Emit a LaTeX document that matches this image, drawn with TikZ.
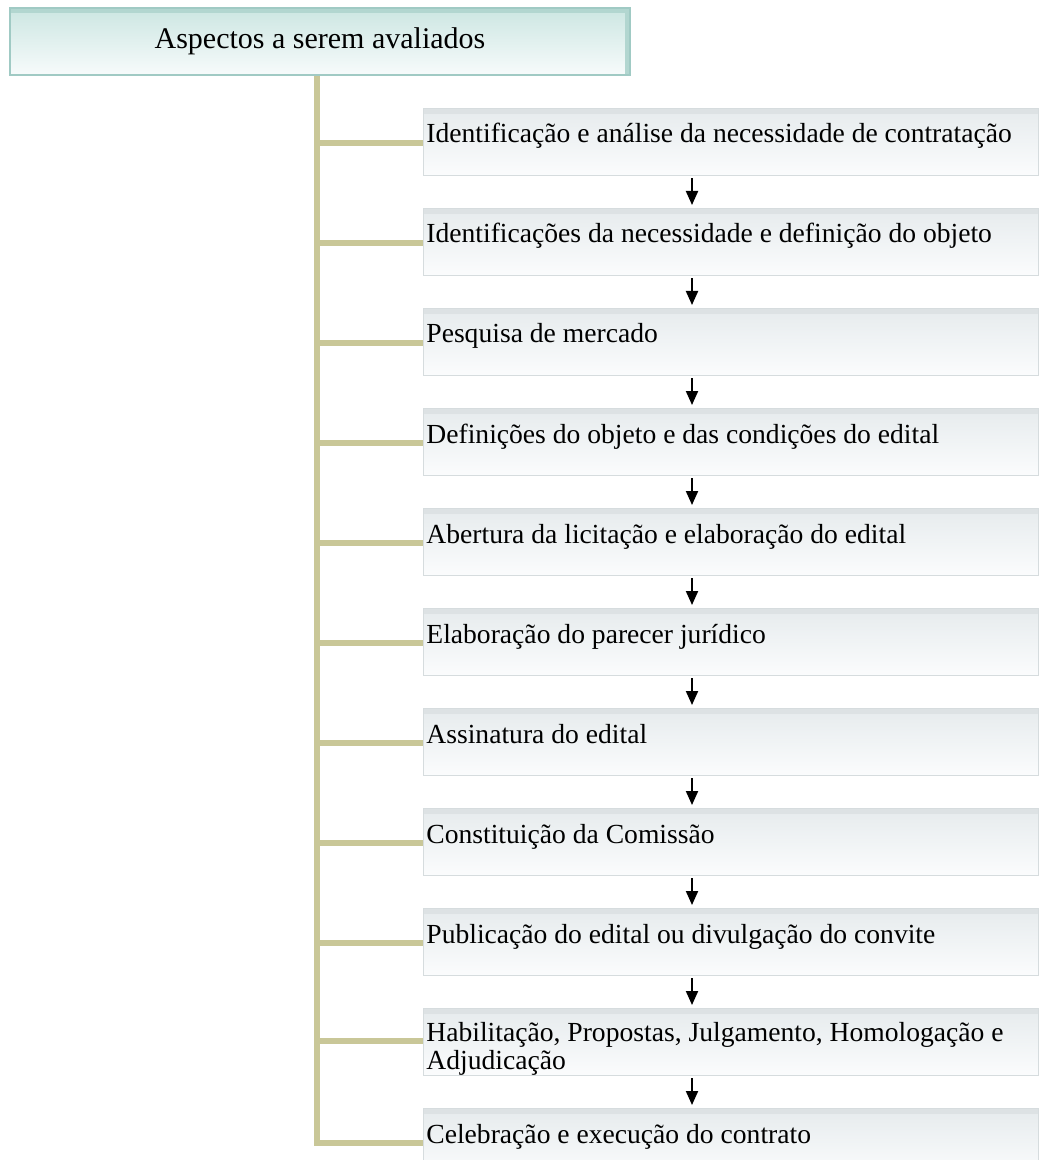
\documentclass[tikz,border=0pt]{standalone}
\usepackage{fontspec}
\setmainfont{Liberation Serif}
\usetikzlibrary{arrows.meta,calc}

\definecolor{trunk}{RGB}{201,199,152}
\definecolor{headline}{RGB}{160,202,196}
\definecolor{headtop}{RGB}{204,230,226}
\definecolor{headbot}{RGB}{247,251,251}
\definecolor{headbevel}{RGB}{178,214,208}
\definecolor{stepline}{RGB}{214,220,222}
\definecolor{steptop}{RGB}{230,235,237}
\definecolor{stepbot}{RGB}{251,252,253}
\definecolor{stepbevel}{RGB}{221,226,228}

\begin{document}
\begin{tikzpicture}[x=.5pt,y=-.5pt,
        head box/.style={draw=headline, line width=.6pt, top color=headtop, bottom color=headbot,
          minimum width=310pt, minimum height=33.5pt, inner sep=0pt,
          font=\fontsize{15}{17}\selectfont,
          path picture={\fill[headbevel](path picture bounding box.north west)rectangle([yshift=-2.5pt]path picture bounding box.north east);
                        \fill[headbevel]([xshift=-2.5pt]path picture bounding box.north east)rectangle(path picture bounding box.south east);}},
        step box/.style={draw=stepline, line width=.6pt, top color=steptop, bottom color=stepbot,
          minimum width=307.5pt, minimum height=33.5pt, inner sep=0pt, anchor=north west,
          path picture={\fill[stepbevel](path picture bounding box.north west)rectangle([yshift=-2.5pt]path picture bounding box.north east);}},
        step text/.style={anchor=base west, inner sep=0pt, xshift=1.5pt, align=left,
          font=\fontsize{13.8}{14}\selectfont},
        branch/.style={trunk, line width=3.2pt},
        flow/.style={-{Triangle[length=7pt,width=6pt]}, line width=1pt, shorten <=1pt, shorten >=1.5pt}]
        \useasboundingbox (0,0) rectangle (1039,1160);
        \clip (0,0) rectangle (1039,1160);

        % title
        \node[head box] (head) at (320,41.5) {Aspectos a serem avaliados};
        \coordinate (tk) at ([xshift=-1.5pt]head.south);
        \coordinate (ax) at (692,0);

        % steps
        \node[step box] (s1)  at (423, 108) {};
        \node[step box] (s2)  at (423, 208) {};
        \node[step box] (s3)  at (423, 308) {};
        \node[step box] (s4)  at (423, 408) {};
        \node[step box] (s5)  at (423, 508) {};
        \node[step box] (s6)  at (423, 608) {};
        \node[step box] (s7)  at (423, 708) {};
        \node[step box] (s8)  at (423, 808) {};
        \node[step box] (s9)  at (423, 908) {};
        \node[step box] (s10) at (423,1008) {};
        \node[step box] (s11) at (423,1108) {};

        \coordinate (j1)  at ([yshift=-17.5pt]s1.north west);
        \coordinate (j2)  at ([yshift=-17.5pt]s2.north west);
        \coordinate (j3)  at ([yshift=-17.5pt]s3.north west);
        \coordinate (j4)  at ([yshift=-17.5pt]s4.north west);
        \coordinate (j5)  at ([yshift=-17.5pt]s5.north west);
        \coordinate (j6)  at ([yshift=-17.5pt]s6.north west);
        \coordinate (j7)  at ([yshift=-17.5pt]s7.north west);
        \coordinate (j8)  at ([yshift=-17.5pt]s8.north west);
        \coordinate (j9)  at ([yshift=-17.5pt]s9.north west);
        \coordinate (j10) at ([yshift=-16.5pt]s10.north west);
        \coordinate (j11) at ([yshift=-17.5pt]s11.north west);

        \node[step text] (t1)  at (j1)  {Identificação e análise da necessidade de contratação};
        \node[step text] (t2)  at (j2)  {Identificações da necessidade e definição do objeto};
        \node[step text] (t3)  at (j3)  {Pesquisa de mercado};
        \node[step text] (t4)  at (j4)  {Definições do objeto e das condições do edital};
        \node[step text] (t5)  at (j5)  {Abertura da licitação e elaboração do edital};
        \node[step text] (t6)  at (j6)  {Elaboração do parecer jurídico};
        \node[step text] (t7)  at (j7)  {Assinatura do edital};
        \node[step text] (t8)  at (j8)  {Constituição da Comissão};
        \node[step text] (t9)  at (j9)  {Publicação do edital ou divulgação do convite};
        % two lines: base anchor sits on the last line
        \node[step text] (t10) at ([yshift=-14pt]j10) {Habilitação, Propostas, Julgamento, Homologação e\\Adjudicação};
        \node[step text] (t11) at (j11) {Celebração e execução do contrato};

        % trunk and branches
        \draw[branch] (tk) |- (j11);
        \draw[branch] (tk |- j1)  -- (j1);
        \draw[branch] (tk |- j2)  -- (j2);
        \draw[branch] (tk |- j3)  -- (j3);
        \draw[branch] (tk |- j4)  -- (j4);
        \draw[branch] (tk |- j5)  -- (j5);
        \draw[branch] (tk |- j6)  -- (j6);
        \draw[branch] (tk |- j7)  -- (j7);
        \draw[branch] (tk |- j8)  -- (j8);
        \draw[branch] (tk |- j9)  -- (j9);
        \draw[branch] (tk |- j10) -- (j10);

        % arrows
        \draw[flow] (s1.south -| ax)  -- (s2.north -| ax);
        \draw[flow] (s2.south -| ax)  -- (s3.north -| ax);
        \draw[flow] (s3.south -| ax)  -- (s4.north -| ax);
        \draw[flow] (s4.south -| ax)  -- (s5.north -| ax);
        \draw[flow] (s5.south -| ax)  -- (s6.north -| ax);
        \draw[flow] (s6.south -| ax)  -- (s7.north -| ax);
        \draw[flow] (s7.south -| ax)  -- (s8.north -| ax);
        \draw[flow] (s8.south -| ax)  -- (s9.north -| ax);
        \draw[flow] (s9.south -| ax)  -- (s10.north -| ax);
        \draw[flow] (s10.south -| ax) -- (s11.north -| ax);
      \end{tikzpicture}
\end{document}
